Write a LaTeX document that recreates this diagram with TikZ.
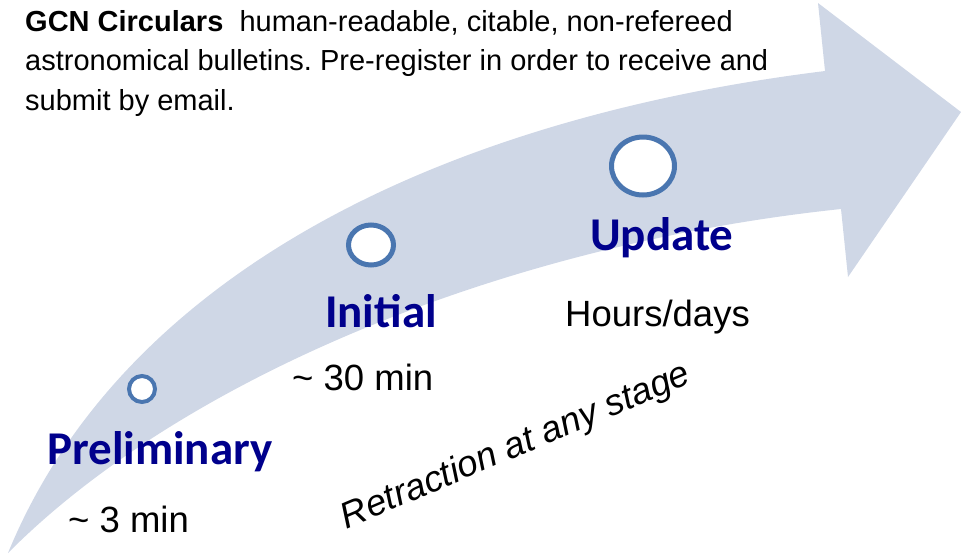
\documentclass[tikz,border=0pt]{standalone}
\usepackage{fontspec}
\setmainfont{Liberation Sans}
\newfontfamily\stagefont{Carlito}
\usetikzlibrary{shapes.geometric}
\definecolor{bandfill}{RGB}{207,215,230}
\definecolor{ringblue}{RGB}{74,118,176}
\definecolor{stagenavy}{RGB}{0,0,140}
\frenchspacing

\begin{document}
\begin{tikzpicture}[x=1pt,y=-1pt,
  ring/.style={ellipse, draw=ringblue, fill=white, inner sep=0pt},
  stagelabel/.style={font=\stagefont\bfseries\fontsize{47}{50}\selectfont,
    text=stagenavy, inner sep=0pt, anchor=base west},
  timelabel/.style={font=\fontsize{36.5}{40}\selectfont, inner sep=0pt, anchor=base west},
  introline/.style={font=\fontsize{29}{36}\selectfont, inner sep=0pt, anchor=base west}]
\useasboundingbox (0,0) rectangle (961,555);

% curved timeline arrow
\fill[bandfill] (8,553) .. controls (120,280) and (430,120) .. (825,71)
  -- (818,3) -- (961,112) -- (848,277) -- (841,209)
  .. controls (500,245) and (180,380) .. (8,553) -- cycle;

% stage markers
\node[ring, line width=4pt, minimum width=26pt, minimum height=26pt] (ringA) at (142,389) {};
\node[ring, line width=5pt, minimum width=45pt, minimum height=40pt] (ringB) at (371,245) {};
\node[ring, line width=5pt, minimum width=63pt, minimum height=58pt] (ringC) at (643,166) {};

% intro text
\node[introline] (intro1) at (25,31) {\textbf{GCN Circulars}\ \ human-readable, citable, non-refereed};
\node[introline] (intro2) at (25,70) {astronomical bulletins. Pre-register in order to receive and};
\node[introline] (intro3) at (25,110) {submit by email.};

% stage names
\node[stagelabel] (prelim) at (47,464) {Preliminary};
\node[stagelabel] (initial) at (325,327) {Initial};
\node[stagelabel] (update) at (590,250) {Update};

% latencies
\node[timelabel] (tprelim) at (68,532) {\textasciitilde\ 3 min};
\node[timelabel] (tinitial) at (292,390) {\textasciitilde\ 30 min};
\node[timelabel] (tupdate) at (565,326) {Hours/days};

% retraction note
\node[font=\itshape\fontsize{36.5}{40}\selectfont, inner sep=0pt, rotate=23] (retract) at (516,447) {Retraction at any stage};
\end{tikzpicture}
\end{document}
